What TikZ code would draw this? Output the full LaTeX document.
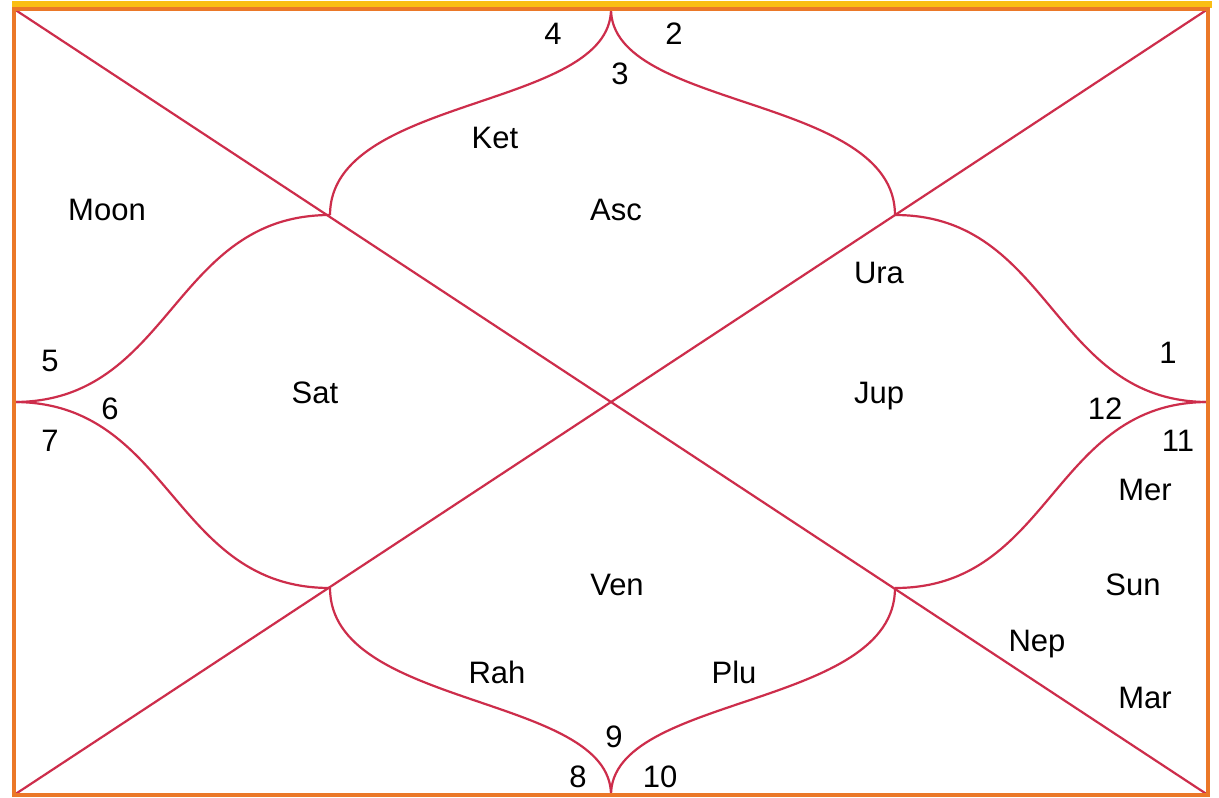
\documentclass[tikz,border=0pt]{standalone}
\usepackage{fontspec}
\setmainfont{Liberation Sans}
\definecolor{linered}{RGB}{205,45,75}
\definecolor{frameorange}{RGB}{235,120,40}
\definecolor{frameyellow}{RGB}{250,190,20}
\begin{document}
\begin{tikzpicture}[x=1pt,y=-1pt,
  chartline/.style={draw=linered,line width=2.2pt},
  lbl/.style={inner sep=0pt,anchor=center,text height=22pt,text depth=0pt,font=\fontsize{31}{31}\selectfont}]
\useasboundingbox (0,0) rectangle (1219,798);
\fill[white] (0,0) rectangle (1219,798);
% frame
\fill[frameyellow] (12,1) rectangle (1212,8);
\coordinate (tl) at (14,9);
\coordinate (tr) at (1208,9);
\coordinate (br) at (1208,795);
\coordinate (bl) at (14,795);
\coordinate (tm) at (611,9);
\coordinate (bm) at (611,795);
\coordinate (lm) at (14,402);
\coordinate (rm) at (1208,402);
\coordinate (c) at (611,402);
\coordinate (qtl) at (330,215);
\coordinate (qtr) at (895,215);
\coordinate (qbl) at (330,588);
\coordinate (qbr) at (895,588);
% diagonals
\draw[chartline] (tl) -- (br);
\draw[chartline] (tr) -- (bl);
% petals
\draw[chartline] (tm) .. controls (611,110) and (330,95) .. (qtl);
\draw[chartline] (tm) .. controls (611,110) and (895,95) .. (qtr);
\draw[chartline] (qtl) .. controls (172,215) and (172,402) .. (lm);
\draw[chartline] (qtr) .. controls (1052,215) and (1052,402) .. (rm);
\draw[chartline] (qbl) .. controls (172,588) and (172,402) .. (lm);
\draw[chartline] (qbr) .. controls (1052,588) and (1052,402) .. (rm);
\draw[chartline] (bm) .. controls (611,694) and (330,709) .. (qbl);
\draw[chartline] (bm) .. controls (611,694) and (895,709) .. (qbr);
% frame border
\draw[frameorange,line width=3.5pt] (tl) rectangle (br);
% labels
\node[lbl] (n4) at (553,33) {4};
\node[lbl] (n2) at (674,33) {2};
\node[lbl] (n3) at (620,73) {3};
\node[lbl] (ket) at (495,137) {Ket};
\node[lbl] (asc) at (616,209) {Asc};
\node[lbl] (moon) at (107,209) {Moon};
\node[lbl] (ura) at (879,272) {Ura};
\node[lbl] (n5) at (50,360) {5};
\node[lbl] (n1) at (1168,352) {1};
\node[lbl] (n6) at (110,408) {6};
\node[lbl] (sat) at (315,392) {Sat};
\node[lbl] (jup) at (879,392) {Jup};
\node[lbl] (n12) at (1105,408) {12};
\node[lbl] (n7) at (50,440) {7};
\node[lbl] (n11) at (1178,440) {11};
\node[lbl] (mer) at (1145,489) {Mer};
\node[lbl] (ven) at (617,584) {Ven};
\node[lbl] (sun) at (1133,584) {Sun};
\node[lbl] (nep) at (1037,640) {Nep};
\node[lbl] (rah) at (497,672) {Rah};
\node[lbl] (plu) at (734,672) {Plu};
\node[lbl] (mar) at (1145,697) {Mar};
\node[lbl] (n9) at (614,736) {9};
\node[lbl] (n8) at (578,776) {8};
\node[lbl] (n10) at (660,776) {10};
\end{tikzpicture}
\end{document}
